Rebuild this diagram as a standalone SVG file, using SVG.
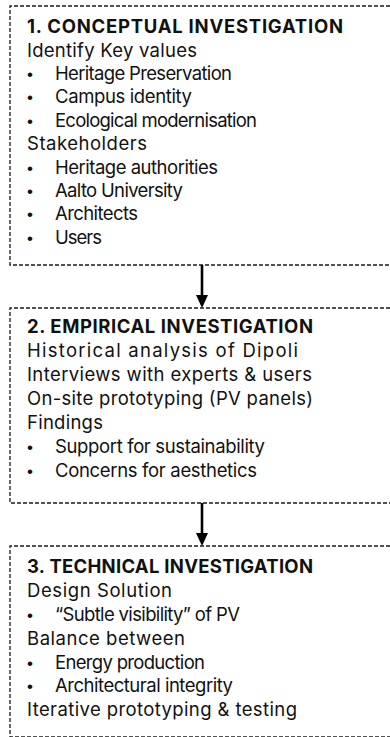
<svg xmlns="http://www.w3.org/2000/svg" width="390" height="737" viewBox="0 0 390 737">
  <style>
    .box { fill: none; stroke: #1a1a1a; stroke-width: 1.3; stroke-dasharray: 4 2; }
    .title { font-family: Inter, "Liberation Sans", sans-serif; font-weight: bold; font-size: 18.5px; fill: #111; }
    .txt { font-family: Inter, "Liberation Sans", sans-serif; font-size: 18.5px; fill: #111; }
    .dot { font-family: "Liberation Sans", Arial, sans-serif; font-size: 17px; fill: #111; }
    .conn { stroke: #000; stroke-width: 2.6; fill: none; }
    .head { fill: #000; }
  </style>
  <rect width="390" height="737" fill="#ffffff"/>

  <!-- Stage 1: boxes run past the right edge, so only top, left and bottom sides are drawn -->
  <g id="node-conceptual">
    <path class="box" d="M420,6 H10 V265 H420"/>
    <text class="title" x="27" y="33" textLength="316" lengthAdjust="spacing">1. CONCEPTUAL INVESTIGATION</text>
    <text class="txt" x="27" y="56.5" textLength="170" lengthAdjust="spacing">Identify Key values</text>
    <text class="dot" x="27" y="80">•</text>
    <text class="txt" x="55" y="80" textLength="177" lengthAdjust="spacing">Heritage Preservation</text>
    <text class="dot" x="27" y="103">•</text>
    <text class="txt" x="55" y="103" textLength="137" lengthAdjust="spacing">Campus identity</text>
    <text class="dot" x="27" y="126.5">•</text>
    <text class="txt" x="55" y="126.5" textLength="202" lengthAdjust="spacing">Ecological modernisation</text>
    <text class="txt" x="27" y="150" textLength="120" lengthAdjust="spacing">Stakeholders</text>
    <text class="dot" x="27" y="173.5">•</text>
    <text class="txt" x="55" y="173.5" textLength="163" lengthAdjust="spacing">Heritage authorities</text>
    <text class="dot" x="27" y="197">•</text>
    <text class="txt" x="55" y="197" textLength="128" lengthAdjust="spacing">Aalto University</text>
    <text class="dot" x="27" y="220">•</text>
    <text class="txt" x="55" y="220" textLength="83" lengthAdjust="spacing">Architects</text>
    <text class="dot" x="27" y="243.5">•</text>
    <text class="txt" x="55" y="243.5" textLength="47" lengthAdjust="spacing">Users</text>
  </g>

  <!-- Stage 2 -->
  <g id="node-empirical">
    <path class="box" d="M420,308 H10 V503 H420"/>
    <text class="title" x="27" y="333" textLength="286" lengthAdjust="spacing">2. EMPIRICAL INVESTIGATION</text>
    <text class="txt" x="27" y="357" textLength="271" lengthAdjust="spacing">Historical analysis of Dipoli</text>
    <text class="txt" x="27" y="381" textLength="285" lengthAdjust="spacing">Interviews with experts &amp; users</text>
    <text class="txt" x="27" y="405" textLength="286" lengthAdjust="spacing">On-site prototyping (PV panels)</text>
    <text class="txt" x="27" y="429" textLength="76" lengthAdjust="spacing">Findings</text>
    <text class="dot" x="27" y="453">•</text>
    <text class="txt" x="55" y="453" textLength="210" lengthAdjust="spacing">Support for sustainability</text>
    <text class="dot" x="27" y="477">•</text>
    <text class="txt" x="55" y="477" textLength="202" lengthAdjust="spacing">Concerns for aesthetics</text>
  </g>

  <!-- Stage 3 -->
  <g id="node-technical">
    <path class="box" d="M420,546 H10 V737 H420"/>
    <text class="title" x="27" y="573" textLength="286" lengthAdjust="spacing">3. TECHNICAL INVESTIGATION</text>
    <text class="txt" x="27" y="597" textLength="145" lengthAdjust="spacing">Design Solution</text>
    <text class="dot" x="27" y="621">•</text>
    <text class="txt" x="55" y="621" textLength="185" lengthAdjust="spacing">“Subtle visibility” of PV</text>
    <text class="txt" x="27" y="645" textLength="158" lengthAdjust="spacing">Balance between</text>
    <text class="dot" x="27" y="669">•</text>
    <text class="txt" x="55" y="669" textLength="150" lengthAdjust="spacing">Energy production</text>
    <text class="dot" x="27" y="692">•</text>
    <text class="txt" x="55" y="692" textLength="178" lengthAdjust="spacing">Architectural integrity</text>
    <text class="txt" x="27" y="716" textLength="270" lengthAdjust="spacing">Iterative prototyping &amp; testing</text>
  </g>

  <!-- Connectors -->
  <g id="connectors">
    <line class="conn" x1="202" y1="265" x2="202" y2="296"/>
    <polygon class="head" points="196,295 208,295 202,308"/>
    <line class="conn" x1="202" y1="503" x2="202" y2="534"/>
    <polygon class="head" points="196,533 208,533 202,546"/>
  </g>
</svg>
